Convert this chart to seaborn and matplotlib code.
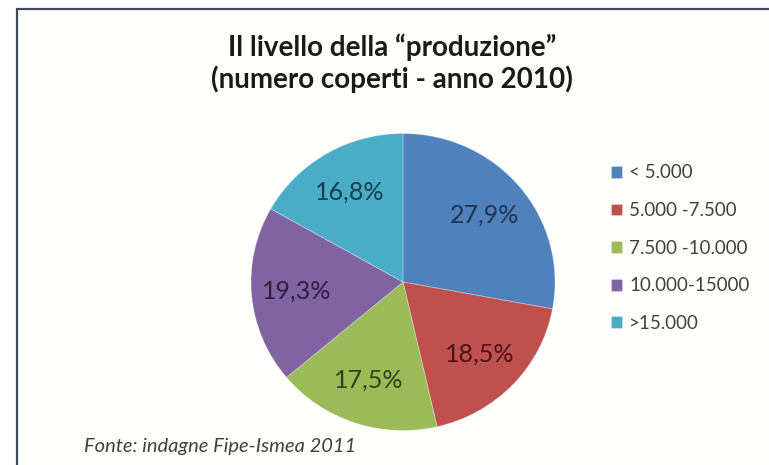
import matplotlib
matplotlib.use("Agg")
import matplotlib.pyplot as plt
from matplotlib.patches import Rectangle
import seaborn as sns

# Share of restaurants by number of covers served (2010)
categories = ["< 5.000", "5.000 -7.500", "7.500 -10.000", "10.000-15000", ">15.000"]
shares = [27.9, 18.5, 17.5, 19.3, 16.8]
slice_colors = ["#4F81BD", "#C0504D", "#9BBB59", "#8064A2", "#4BACC6"]
label_colors = ["#1F3554", "#4A1514", "#2F4416", "#2E2140", "#163F4C"]

sns.set_theme(style="white")
plt.rcParams["font.family"] = ["Lato", "DejaVu Sans"]

W, H = 769, 465
fig = plt.figure(figsize=(W / 100, H / 100), dpi=100)
fig.patch.set_facecolor("white")

# chart frame (left and top edges visible)
fig.patches.append(Rectangle((17 / W, -0.05), 1.2, 1 - 9 / H + 0.05,
                             transform=fig.transFigure, facecolor="#FFFFFD",
                             edgecolor="#3E4A5E", linewidth=1.6, zorder=-5))

cx, cy, rx, ry = 403, 282, 152, 148.5
pad = 165
ax = fig.add_axes([(cx - pad) / W, 1 - (cy + pad) / H, 2 * pad / W, 2 * pad / H])
ax.set_zorder(2)
ax.axis("off")

palette = sns.color_palette(slice_colors)
wedges, texts, autotexts = ax.pie(
    shares, colors=palette, startangle=90, counterclock=False,
    autopct=lambda p: f"{p:.1f}%".replace(".", ","), pctdistance=0.70,
    wedgeprops=dict(linewidth=0.8, edgecolor="#FFFFFF40"),
    textprops=dict(fontsize=18),
)
ax.set_aspect("auto")
ax.set_xlim(-pad / rx, pad / rx)
ax.set_ylim(-pad / ry, pad / ry)
for t, c in zip(autotexts, label_colors):
    t.set_color(c)

fig.text(392 / W, 1 - 47 / H, "Il livello della \u201cproduzione\u201d", ha="center", va="center",
         fontsize=20, fontweight="bold", color="#1a1a1a")
fig.text(392 / W, 1 - 79 / H, "(numero coperti - anno 2010)", ha="center", va="center",
         fontsize=20, fontweight="bold", color="#1a1a1a")

leg = fig.legend(wedges, categories, loc="upper left",
                 bbox_to_anchor=(603 / W, 1 - 157 / H), frameon=False,
                 fontsize=13.5, handlelength=0.6, handleheight=0.6,
                 handletextpad=0.4, labelspacing=1.1, borderaxespad=0)
for t in leg.get_texts():
    t.set_color("#404040")

fig.text(84 / W, 1 - 446 / H, "Fonte: indagne Fipe-Ismea 2011", ha="left", va="center",
         fontsize=14.5, fontstyle="italic", color="#404040")

fig.savefig("out.png", dpi=100, facecolor=fig.get_facecolor())
